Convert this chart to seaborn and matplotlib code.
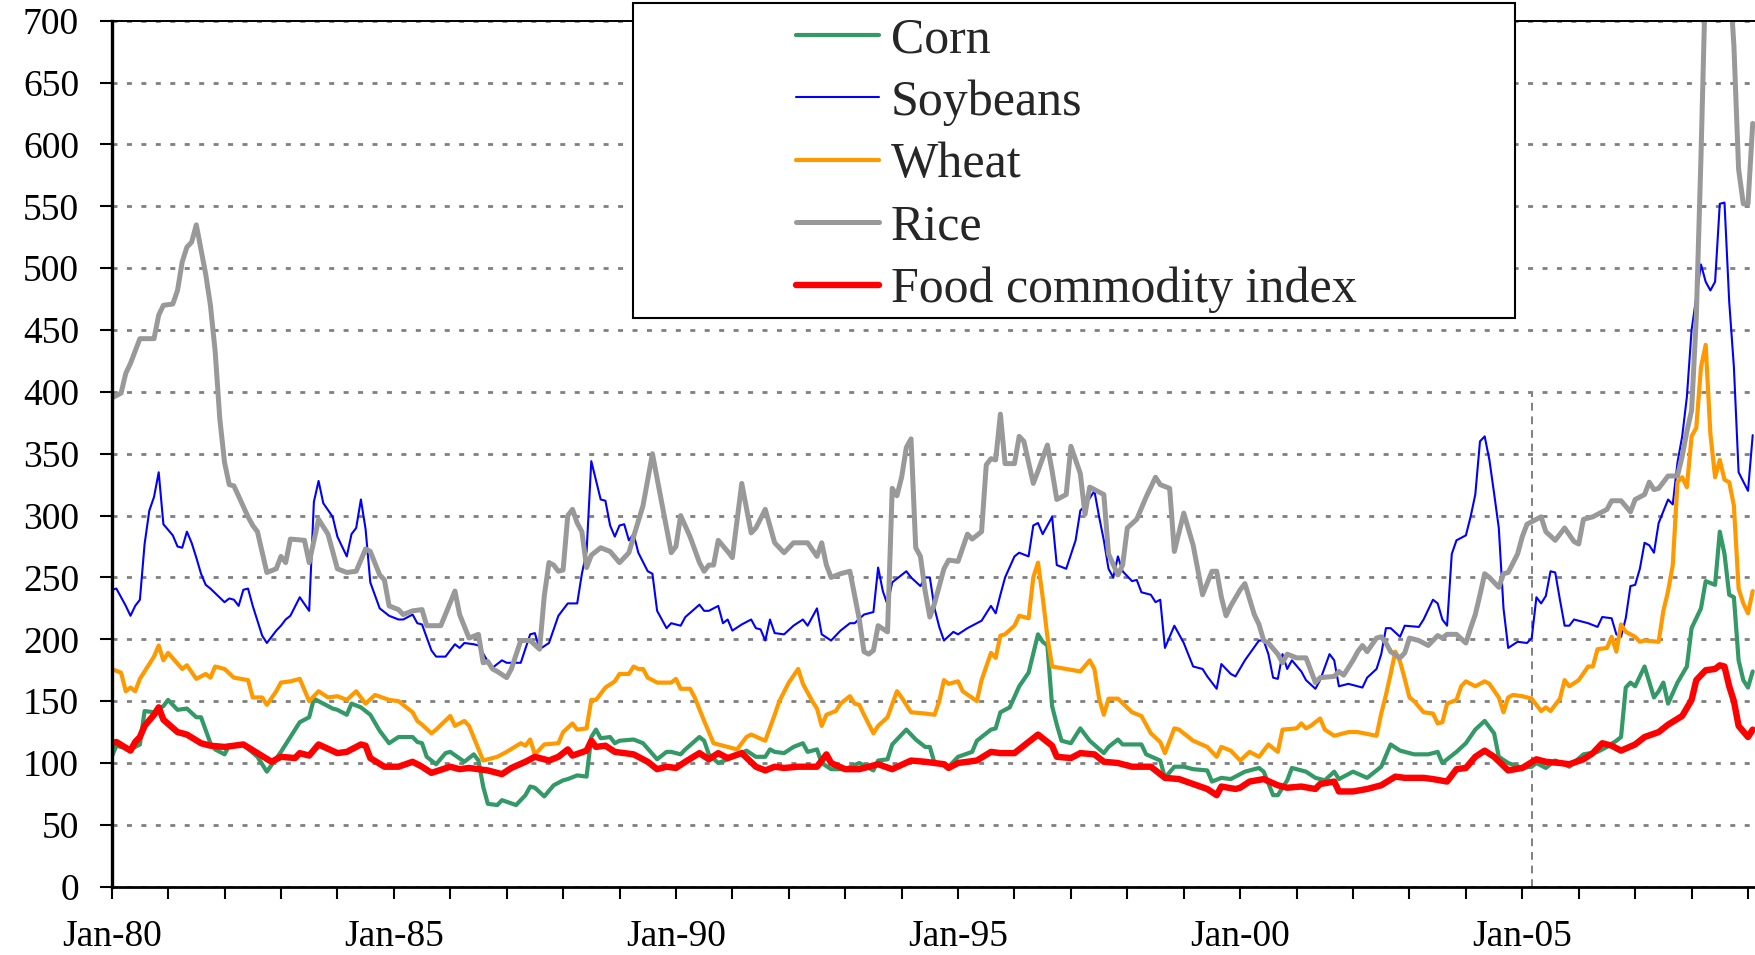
import matplotlib
matplotlib.use("Agg")
import matplotlib.pyplot as plt
from matplotlib.patches import Rectangle
import pandas as pd
import seaborn as sns

# (month since Jan-80, index value)
corn = [(0,105),(1,114),(2,113),(4,111),(6,115),(7,142),(9,141),(11,146),(12,151),(14,143),(16,144),(18,137),
        (19,137),(21,116),(22,111),(24,107),(25,114),(28,115),(31,105),(33,93),(36,109),(38,121),(40,133),(42,137),
        (43,152),(45,148),(47,144),(48,143),(50,139),(51,148),(53,145),(55,139),(57,126),(59,116),(61,121),(64,121),
        (65,117),(66,116),(67,105),(69,99),(71,108),(72,109),(75,101),(77,107),(78,102),(79,81),(80,67),(82,66),
        (83,70),(86,66),(88,74),(89,81),(90,80),(92,73),(94,82),(96,86),(97,87),(99,90),(101,89),(102,121),(103,127),
        (104,120),(106,121),(107,116),(108,118),(111,119),(113,116),(116,103),(118,109),(119,109),(121,107),(122,111),
        (125,121),(126,118),(127,107),(129,100),(131,103),(135,110),(137,105),(139,105),(140,111),(141,109),(143,108),
        (145,113),(147,116),(148,109),(150,111),(151,100),(153,95),(156,95),(159,100),(162,94),(163,102),(165,103),
        (166,115),(169,127),(171,119),(173,113),(174,113),(175,100),(177,100),(178,97),(180,105),(183,109),(184,118),
        (187,127),(188,128),(189,141),(191,145),(193,162),(195,173),(197,204),(198,198),(199,195),(200,146),(201,131),
        (202,118),(204,116),(206,128),(208,118),(211,108),(212,113),(214,119),(215,115),(219,115),(220,107),(223,102),
        (224,88),(226,97),(228,97),(230,95),(233,94),(234,85),(236,88),(238,87),(240,91),(241,93),(244,96),(245,93),
        (247,74),(248,74),(250,86),(251,96),(254,93),(256,88),(258,86),(260,93),(261,87),(264,93),(267,88),(270,97),
        (272,115),(274,110),(277,107),(280,107),(282,109),(283,100),(284,103),(286,109),(288,116),(290,127),(292,134),
        (294,124),(295,105),(297,100),(300,96),(302,97),(303,100),(305,96),(307,102),(309,99),(310,97),(313,107),
        (316,109),(318,113),(320,118),(321,121),(322,161),(323,165),(324,162),(326,178),(328,153),(329,158),(330,165),
        (331,148),(333,165),(335,178),(336,209),(338,225),(339,247),(341,244),(342,287),(343,269),(344,236),(345,234),
        (346,183),(347,167),(348,161),(349,174)]

soybeans = [(0,240),(1,241),(3,227),(4,219),(5,227),(6,232),(7,277),(8,304),(9,315),(10,335),(11,293),(13,284),
            (14,275),(15,274),(16,287),(17,278),(18,266),(19,253),(20,244),(21,241),(24,230),(25,233),(26,232),(27,227),
            (28,240),(29,241),(30,227),(32,203),(33,197),(35,207),(36,211),(37,216),(38,219),(40,234),(42,223),(43,311),
            (44,328),(45,310),(47,299),(48,283),(50,267),(51,285),(52,290),(53,313),(54,289),(55,246),(57,225),(59,219),
            (61,216),(62,216),(64,220),(65,213),(66,212),(68,191),(69,186),(71,186),(73,196),(74,193),(75,197),(77,196),
            (78,195),(80,182),(81,177),(83,183),(84,181),(87,181),(89,204),(90,205),(91,192),(93,197),(95,219),(97,229),
            (99,229),(100,253),(101,271),(102,344),(104,313),(105,312),(106,292),(107,283),(108,292),(109,293),(110,280),
            (111,285),(112,270),(114,255),(115,253),(116,223),(118,209),(119,213),(121,211),(122,218),(125,228),(126,223),
            (127,223),(129,227),(130,213),(131,216),(132,207),(134,212),(136,216),(137,209),(138,208),(139,199),(140,216),
            (141,205),(143,204),(145,211),(147,216),(148,211),(150,225),(151,204),(153,199),(155,207),(157,213),(158,213),
            (160,220),(162,222),(163,258),(164,239),(165,228),(166,246),(169,255),(170,250),(172,243),(173,250),(174,250),
            (175,225),(176,210),(177,199),(179,206),(180,204),(182,209),(185,215),(187,227),(188,221),(189,236),(190,250),
            (192,267),(193,270),(195,267),(196,292),(197,294),(198,285),(200,299),(201,260),(203,257),(205,280),(206,304),
            (207,308),(209,320),(210,299),(211,280),(212,257),(213,250),(214,267),(215,255),(217,247),(218,248),(219,238),
            (221,236),(222,230),(223,232),(224,193),(226,211),(228,197),(230,178),(232,176),(233,170),(235,160),(236,180),
            (238,172),(239,170),(241,183),(244,199),(245,199),(246,188),(247,169),(248,168),(249,188),(250,176),(251,183),
            (253,174),(254,167),(256,160),(257,167),(259,188),(260,183),(261,162),(263,164),(266,161),(267,169),(269,176),
            (270,188),(271,209),(272,209),(274,202),(275,211),(278,210),(279,216),(281,232),(282,229),(283,216),(284,211),
            (285,269),(286,280),(288,284),(289,299),(290,317),(291,360),(292,364),(293,345),(294,318),(295,290),(296,225),
            (297,193),(299,198),(301,197),(302,201),(303,234),(304,229),(305,235),(306,255),(307,254),(308,232),(309,211),
            (310,211),(311,216),(314,213),(316,210),(317,218),(319,217),(320,204),(321,202),(322,217),(323,243),(324,244),
            (325,257),(326,278),(327,276),(328,270),(329,294),(331,313),(332,309),(333,343),(334,364),(335,396),(336,450),
            (338,503),(339,489),(340,482),(341,489),(342,552),(343,553),(344,473),(345,420),(346,335),(348,320),(349,365)]

wheat = [(0,176),(2,173),(3,158),(4,161),(5,158),(6,168),(7,174),(9,186),(10,195),(11,183),(12,189),(15,176),
         (16,179),(18,168),(20,172),(21,169),(22,178),(24,176),(26,169),(29,167),(30,153),(32,153),(33,147),(35,158),
         (36,165),(38,166),(40,168),(42,150),(44,158),(46,153),(48,154),(50,151),(52,158),(54,148),(56,155),(59,151),
         (61,150),(64,141),(65,134),(66,131),(68,124),(69,127),(72,138),(73,130),(75,134),(76,130),(79,102),(82,105),
         (84,109),(87,116),(88,114),(89,119),(90,107),(92,115),(95,116),(96,125),(98,132),(99,127),(101,128),(102,151),
         (103,151),(105,161),(107,166),(108,172),(110,172),(111,178),(112,176),(113,176),(114,169),(116,165),(119,165),
         (120,168),(121,160),(123,160),(124,153),(126,134),(128,116),(129,115),(133,111),(135,121),(136,123),(139,118),
         (141,139),(142,150),(144,165),(146,176),(147,164),(149,150),(150,144),(151,130),(152,139),(154,142),(155,148),
         (157,154),(158,148),(159,147),(160,139),(162,124),(163,130),(165,137),(167,158),(168,153),(170,141),(173,140),
         (175,139),(176,150),(177,167),(178,164),(180,166),(181,158),(184,150),(185,167),(187,189),(188,185),(189,203),
         (190,204),(192,211),(193,219),(195,217),(196,250),(197,262),(198,234),(199,202),(200,178),(203,176),(206,174),
         (208,183),(209,176),(210,152),(211,139),(212,152),(214,152),(217,141),(219,138),(221,124),(223,117),(224,108),
         (226,128),(227,127),(230,118),(233,113),(235,105),(236,113),(238,110),(240,102),(242,109),(244,105),(246,115),
         (248,109),(249,127),(252,128),(253,132),(254,128),(255,130),(257,136),(258,127),(260,122),(263,125),(265,125),
         (269,122),(270,140),(271,155),(272,172),(273,190),(274,182),(275,168),(276,153),(277,150),(279,141),(281,140),
         (282,132),(283,133),(284,148),(286,151),(287,162),(288,166),(290,162),(292,166),(293,164),(295,153),(296,141),
         (297,153),(298,155),(300,154),(302,152),(304,142),(305,145),(306,142),(308,152),(309,167),(310,162),(312,167),
         (314,178),(315,178),(316,192),(318,193),(319,202),(320,190),(321,212),(322,206),(324,202),(325,198),(326,199),
         (329,198),(330,223),(331,239),(332,260),(333,327),(334,331),(335,323),(336,364),(337,371),(338,420),(339,438),
         (340,366),(341,331),(342,345),(343,329),(344,327),(345,308),(346,241),(347,229),(348,221),(349,239)]

rice = [(0,395),(2,399),(3,415),(4,423),(6,443),(9,443),(10,462),(11,470),(13,471),(14,482),(15,505),(16,517),
        (17,521),(18,535),(19,515),(20,495),(21,470),(22,433),(23,378),(24,343),(25,325),(26,324),(29,299),(30,292),
        (31,287),(33,254),(35,257),(36,267),(37,262),(38,281),(41,280),(42,262),(44,297),(46,285),(47,271),(48,257),
        (50,254),(52,255),(54,273),(55,271),(57,252),(58,248),(59,227),(61,224),(62,220),(64,223),(66,224),(67,211),
        (70,211),(73,239),(74,220),(76,201),(78,204),(79,181),(80,182),(81,176),(82,174),(84,169),(85,176),(87,199),
        (89,199),(91,192),(92,235),(93,262),(94,260),(95,255),(96,256),(97,300),(98,305),(99,294),(100,287),(101,258),
        (102,268),(104,274),(106,271),(108,262),(110,270),(111,283),(113,308),(115,350),(116,330),(117,310),(119,270),
        (120,275),(121,300),(123,283),(125,262),(126,255),(127,260),(128,260),(129,280),(131,271),(132,266),(134,326),
        (136,286),(137,290),(139,305),(141,278),(143,270),(145,278),(148,278),(150,267),(151,278),(152,260),(153,250),
        (155,253),(157,255),(159,216),(160,190),(161,188),(162,191),(163,211),(165,206),(166,322),(167,316),(168,331),
        (169,355),(170,362),(171,274),(172,267),(173,239),(174,218),(175,229),(177,257),(178,264),(180,263),(182,285),
        (183,281),(185,287),(186,341),(187,346),(188,345),(189,382),(190,342),(192,342),(193,364),(194,360),(196,326),
        (197,336),(199,357),(200,336),(201,313),(203,317),(204,356),(206,334),(207,301),(208,323),(211,317),(212,269),
        (214,252),(215,260),(216,290),(218,297),(220,315),(222,331),(223,325),(225,322),(226,271),(228,302),(230,276),
        (232,236),(234,255),(235,255),(236,234),(237,219),(238,227),(240,240),(241,245),(243,220),(244,212),(245,199),
        (246,197),(248,188),(249,181),(250,188),(252,185),(254,185),(256,165),(257,169),(260,170),(261,174),(262,171),
        (264,183),(265,190),(266,195),(267,190),(269,201),(270,202),(271,197),(272,190),(274,185),(275,189),(276,201),
        (278,199),(280,195),(282,203),(283,201),(284,204),(286,204),(288,197),(289,209),(290,220),(291,236),(292,253),
        (293,250),(295,242),(296,253),(297,254),(299,269),(300,283),(301,293),(304,299),(305,287),(307,280),(309,290),
        (311,279),(312,277),(313,297),(315,299),(318,305),(319,312),(321,312),(323,303),(324,313),(326,317),(327,327),
        (328,321),(329,322),(331,332),(333,332),(334,348),(335,368),(336,385),(337,460),(338,590),(339,740),(340,820),
        (341,860),(342,850),(343,800),(344,740),(345,680),(346,580),(347,552),(348,552),(349,617)]

food_index = [(0,116),(1,117),(4,110),(5,117),(6,121),(7,130),(9,139),(10,145),(11,135),(14,125),(16,123),(19,116),
              (21,114),(24,113),(28,115),(31,108),(34,101),(36,105),(39,104),(40,108),(42,106),(44,115),(48,108),
              (50,109),(53,115),(54,114),(55,104),(58,97),(61,97),(64,101),(66,97),(68,92),(72,97),(74,95),(76,96),
              (80,94),(83,91),(85,96),(88,101),(90,105),(93,102),(95,105),(97,111),(98,106),(101,110),(102,118),
              (103,113),(105,114),(107,109),(111,107),(114,101),(116,95),(118,97),(120,96),(122,101),(125,108),
              (127,103),(129,108),(131,104),(134,108),(137,97),(139,94),(141,97),(143,96),(146,97),(150,97),(151,102),
              (152,107),(153,100),(156,95),(159,95),(163,99),(166,95),(170,102),(173,101),(177,99),(178,96),(180,100),
              (182,101),(184,102),(187,109),(189,108),(192,108),(194,114),(197,123),(199,117),(200,114),(201,105),
              (204,104),(206,108),(209,107),(211,101),(214,100),(217,97),(221,97),(224,88),(227,87),(230,83),(233,79),
              (235,74),(236,81),(239,79),(240,80),(242,85),(245,87),(248,82),(250,80),(253,81),(256,79),(257,83),
              (260,85),(261,77),(264,77),(267,79),(270,82),(273,89),(275,88),(279,88),(281,87),(284,85),(286,95),
              (288,96),(290,105),(292,110),(294,105),(297,94),(300,96),(303,103),(305,101),(308,100),(310,99),
              (313,103),(315,108),(317,116),(319,114),(321,110),(324,115),(326,121),(329,125),(331,131),(334,138),
              (336,151),(337,167),(339,175),(341,176),(342,179),(343,178),(344,162),(345,150),(346,130),(348,121),
              (349,127)]

names = ["Corn", "Soybeans", "Wheat", "Rice", "Food commodity index"]
colors = ["#339966", "#0000FF", "#FF9900", "#999999", "#FF0000"]
widths = [3.0, 1.5, 3.0, 3.6, 4.6]
year_labels = ["Jan-80", "Jan-85", "Jan-90", "Jan-95", "Jan-00", "Jan-05"]
break_month = 302
break_top = 400

sns.set_style("white")
plt.rcParams["font.family"] = ["Liberation Serif", "DejaVu Serif"]

fig = plt.figure(figsize=(17.56, 9.55), dpi=100)
ax = fig.add_axes([0.0636, 0.0715, 0.9364, 0.9068])

for name, pts, col, lw in zip(names, [corn, soybeans, wheat, rice, food_index], colors, widths):
    df = pd.DataFrame(pts, columns=["month", "value"])
    sns.lineplot(data=df, x="month", y="value", color=col, linewidth=lw,
                 label=name, ax=ax, errorbar=None)

ax.axvline(break_month, ymin=0, ymax=break_top / 700, color="#808080",
           linewidth=1.4, linestyle=(0, (4, 3)), zorder=1)

ax.set_xlim(0, 349.7)
ax.set_ylim(0, 700)
ax.set_yticks(range(0, 701, 50))
ax.set_xticks(range(0, 349, 12))
ax.set_xticklabels([year_labels[i // 5] if i % 5 == 0 else "" for i in range(30)])
ax.set_xlabel("")
ax.set_ylabel("")

ax.yaxis.grid(True, color="#808080", linewidth=2.0, linestyle=(0, (1.8, 3.4)))
ax.xaxis.grid(False)
ax.set_axisbelow(True)

ax.tick_params(axis="both", direction="out", length=8.5, width=1.5, color="black",
               labelsize=27, labelcolor="black")
ax.tick_params(axis="y", pad=15)
ax.tick_params(axis="x", pad=15)
ax.tick_params(left=True, bottom=True)

for side in ["left", "bottom", "top"]:
    ax.spines[side].set_visible(True)
    ax.spines[side].set_color("black")
ax.spines["left"].set_linewidth(2.4)
ax.spines["bottom"].set_linewidth(2.0)
ax.spines["top"].set_linewidth(1.4)
ax.spines["right"].set_visible(False)

# legend box (drawn separately so it can sit above the plot top)
ax.add_patch(Rectangle((0.3170, 0.6567), 0.5365, 0.3641, transform=ax.transAxes,
                       facecolor="white", edgecolor="black", linewidth=1.5,
                       clip_on=False, zorder=4))
handles, labels = ax.get_legend_handles_labels()
leg = ax.legend(handles, labels, loc="upper left", bbox_to_anchor=(0.4162, 1.0045),
                frameon=False, fontsize=36, borderpad=0, borderaxespad=0,
                handlelength=1.65, handletextpad=0.25, labelspacing=0.32)
leg.set_zorder(5)

fig.savefig("out.png", dpi=100)
